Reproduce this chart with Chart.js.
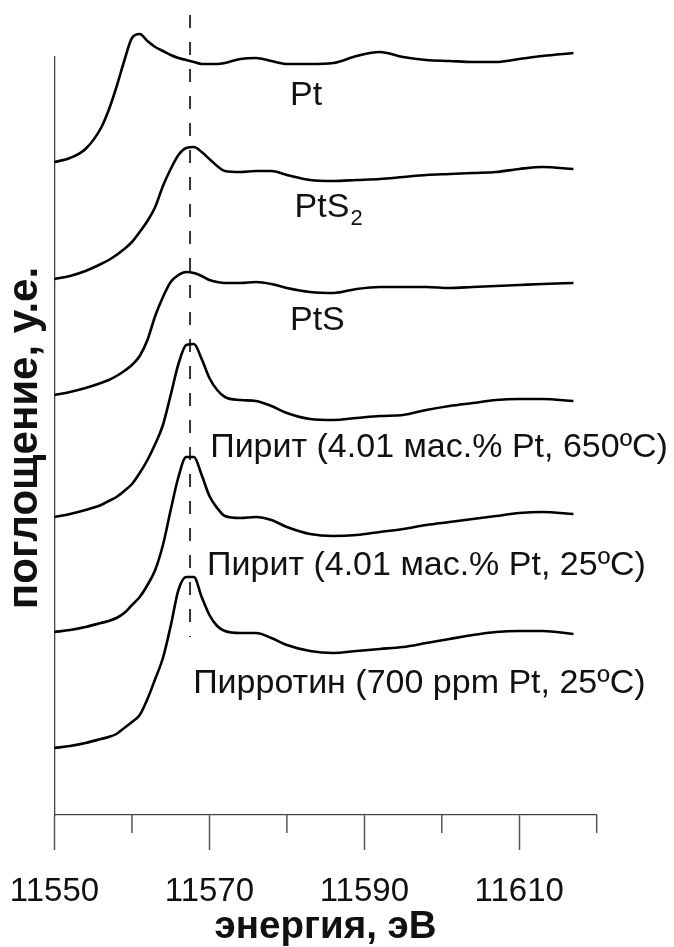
<!DOCTYPE html>
<html>
<head>
<meta charset="utf-8">
<script src="https://cdn.jsdelivr.net/npm/chart.js@4.4.1/dist/chart.umd.min.js"></script>
<style>
  html, body { margin: 0; padding: 0; background: #fff; }
  #chart { display: block; }
</style>
</head>
<body>
<canvas id="chart" width="674" height="947"></canvas>
<script>
// energy grid, eV
const energy = [11550, 11552, 11554, 11556, 11557, 11558, 11559, 11560, 11561, 11562,
  11563, 11564, 11565, 11566, 11567, 11568, 11569, 11570, 11571, 11572,
  11574, 11576, 11578, 11580, 11583, 11586, 11589, 11592, 11595, 11598,
  11601, 11604, 11607, 11610, 11613, 11617];

// normalized absorption, each spectrum from its own baseline
const ptAbs = [0, 0.04, 0.13, 0.34, 0.52, 0.75, 1.01, 1.24, 1.28, 1.21,
  1.15, 1.11, 1.07, 1.04, 1.02, 1.00, 0.98, 0.98, 0.98, 0.99,
  1.03, 1.04, 1.01, 0.98, 0.98, 0.99, 1.06, 1.10, 1.05, 1.02,
  1.01, 1.00, 1.00, 1.03, 1.06, 1.09];
const pts2Abs = [0, 0.03, 0.08, 0.15, 0.19, 0.24, 0.30, 0.37, 0.47, 0.58,
  0.72, 0.93, 1.10, 1.24, 1.31, 1.32, 1.27, 1.20, 1.13, 1.08,
  1.07, 1.08, 1.08, 1.04, 0.99, 0.98, 0.99, 1.00, 1.02, 1.04,
  1.05, 1.06, 1.07, 1.10, 1.12, 1.10];
const ptsAbs = [0, 0.03, 0.07, 0.12, 0.15, 0.19, 0.24, 0.30, 0.39, 0.55,
  0.79, 0.98, 1.13, 1.20, 1.23, 1.22, 1.19, 1.15, 1.13, 1.12,
  1.12, 1.13, 1.11, 1.07, 1.03, 1.02, 1.06, 1.08, 1.08, 1.08,
  1.07, 1.08, 1.09, 1.10, 1.11, 1.12];
const pyrite650Abs = [0, 0.03, 0.07, 0.12, 0.16, 0.20, 0.26, 0.33, 0.44, 0.57,
  0.73, 0.92, 1.22, 1.53, 1.72, 1.73, 1.58, 1.39, 1.27, 1.20,
  1.17, 1.16, 1.11, 1.04, 0.98, 0.97, 0.99, 1.01, 1.02, 1.07,
  1.11, 1.14, 1.17, 1.18, 1.18, 1.16];
const pyrite25Abs = [0, 0.02, 0.05, 0.09, 0.11, 0.14, 0.19, 0.27, 0.35, 0.47,
  0.62, 0.87, 1.22, 1.55, 1.75, 1.75, 1.57, 1.36, 1.24, 1.16,
  1.14, 1.15, 1.12, 1.05, 0.98, 0.96, 0.97, 1.00, 1.03, 1.07,
  1.10, 1.13, 1.16, 1.19, 1.20, 1.18];
const pyrrhotiteAbs = [0, 0.02, 0.05, 0.09, 0.11, 0.14, 0.20, 0.26, 0.33, 0.49,
  0.69, 0.90, 1.22, 1.58, 1.71, 1.71, 1.51, 1.33, 1.22, 1.17,
  1.15, 1.15, 1.10, 1.03, 0.97, 0.95, 0.97, 0.99, 1.01, 1.05,
  1.09, 1.13, 1.16, 1.17, 1.17, 1.14];

const spectra = [ptAbs, pts2Abs, ptsAbs, pyrite650Abs, pyrite25Abs, pyrrhotiteAbs];
const offsets = [6.53, 5.36, 4.20, 2.98, 1.83, 0.67];
const sampleNames = ['Pt', 'PtS2', 'PtS', 'Пирит (4.01 мас.% Pt, 650ºC)',
  'Пирит (4.01 мас.% Pt, 25ºC)', 'Пирротин (700 ppm Pt, 25ºC)'];

const xTickLabels = [11550, 11570, 11590, 11610];
const edgeEnergy = 11567.5;
const edgeRange = [1.78, 8.0];

const FONT = '"Liberation Sans", Arial, sans-serif';

// where the sample names sit (energy, y value of baseline)
const namePos = [
  { e: 11580.4, v: 7.10 },
  { e: 11581.0, v: 5.98, sub: '2' },
  { e: 11580.4, v: 4.85 },
  { e: 11570.1, v: 3.58 },
  { e: 11569.7, v: 2.40 },
  { e: 11567.9, v: 1.22 }
];

const datasets = spectra.map((abs, i) => ({
  label: sampleNames[i],
  data: energy.map((e, j) => ({ x: e, y: offsets[i] + abs[j] })),
  borderColor: '#000',
  borderWidth: 2.6,
  pointRadius: 0,
  fill: false,
  cubicInterpolationMode: 'monotone',
  clip: false
}));

datasets.push({
  label: 'edge',
  data: [{ x: edgeEnergy, y: edgeRange[1] }, { x: edgeEnergy, y: edgeRange[0] }],
  borderColor: '#333',
  borderWidth: 2,
  borderDash: [13, 14],
  pointRadius: 0,
  fill: false,
  clip: false
});

const decorations = {
  id: 'decorations',
  afterDraw(chart) {
    const { ctx, chartArea } = chart;
    const x = chart.scales.x, y = chart.scales.y;
    ctx.save();

    // short minor ticks
    ctx.strokeStyle = '#555';
    ctx.lineWidth = 1.5;
    x.ticks.forEach(t => {
      if (xTickLabels.includes(t.value)) return;
      const px = x.getPixelForValue(t.value);
      ctx.beginPath();
      ctx.moveTo(px, chartArea.bottom);
      ctx.lineTo(px, chartArea.bottom + 18);
      ctx.stroke();
    });

    // sample names
    ctx.fillStyle = '#111';
    ctx.textAlign = 'left';
    ctx.textBaseline = 'alphabetic';
    namePos.forEach((p, i) => {
      const px = x.getPixelForValue(p.e);
      const py = y.getPixelForValue(p.v);
      let txt = sampleNames[i];
      if (p.sub) txt = txt.slice(0, -p.sub.length);
      ctx.font = '34px ' + FONT;
      ctx.fillText(txt, px, py);
      if (p.sub) {
        const w = ctx.measureText(txt).width;
        ctx.font = '22px ' + FONT;
        ctx.fillText(p.sub, px + w + 1, py + 8);
      }
    });

    // axis titles
    ctx.font = 'bold 38.5px ' + FONT;
    ctx.textAlign = 'center';
    ctx.fillText('энергия, эВ', (chartArea.left + chartArea.right) / 2, chart.height - 9);

    ctx.translate(36.5, (chartArea.top + chartArea.bottom) / 2 + 2);
    ctx.rotate(-Math.PI / 2);
    ctx.font = 'bold 42px ' + FONT;
    ctx.fillText('поглощение, у.е.', 0, 0);

    ctx.restore();
  }
};

new Chart(document.getElementById('chart'), {
  type: 'line',
  data: { datasets: datasets },
  plugins: [decorations],
  options: {
    responsive: false,
    animation: false,
    layout: { padding: { left: 54.5, right: 77.3, top: 57, bottom: 0 } },
    plugins: {
      legend: { display: false },
      tooltip: { enabled: false }
    },
    scales: {
      x: {
        type: 'linear',
        min: 11550,
        max: 11620,
        afterFit: scale => {
          scale.paddingLeft = 0;
          scale.paddingRight = 0;
          scale.height = 132;
        },
        ticks: {
          stepSize: 10,
          autoSkip: false,
          maxRotation: 0,
          padding: 22,
          color: '#111',
          font: { size: 33, family: FONT },
          callback: v => xTickLabels.includes(v) ? String(v) : ''
        },
        grid: {
          drawOnChartArea: false,
          drawTicks: true,
          tickLength: 35,
          tickWidth: 1.5,
          tickColor: c => (c.tick && xTickLabels.includes(c.tick.value)) ? '#555' : 'rgba(0,0,0,0)'
        },
        border: { display: true, color: '#444', width: 1.3 }
      },
      y: {
        min: 0,
        max: 7.58,
        afterFit: scale => { scale.width = 0; },
        ticks: { display: false },
        grid: { display: false, drawTicks: false },
        border: { display: true, color: '#444', width: 1.3 }
      }
    }
  }
});
</script>
</body>
</html>
